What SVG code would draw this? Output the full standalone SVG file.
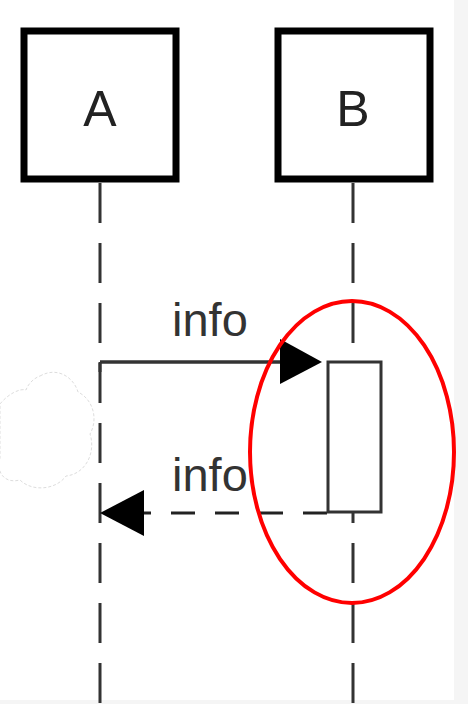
<svg xmlns="http://www.w3.org/2000/svg" width="468" height="704" viewBox="0 0 468 704">
<style>
.box{fill:#fff;stroke:#000;stroke-width:7}
.lbl{font-family:"Liberation Sans",Arial,sans-serif;fill:#222}
.life{stroke:#333;stroke-width:3;stroke-dasharray:40 20;fill:none}
.msg{font-family:"Liberation Sans",Arial,sans-serif;font-size:47px;fill:#333}
</style>
<rect x="0" y="0" width="468" height="704" fill="#fff"/>
<rect x="454" y="0" width="14" height="704" fill="#f5f5f5"/>
<rect x="0" y="700" width="468" height="4" fill="#f5f5f5"/>
<g id="connectors">
<line class="life" x1="100" y1="183" x2="100" y2="704"/>
<line class="life" x1="353" y1="183" x2="353" y2="704"/>
<line x1="100" y1="362" x2="290" y2="362" stroke="#333" stroke-width="3.5"/>
<polygon points="280,339 322,362 280,384" fill="#000"/>
<line x1="327" y1="513" x2="140" y2="513" stroke="#222" stroke-width="3" stroke-dasharray="24 20"/>
<polygon points="100,513 144,490 144,536" fill="#000"/>
<line x1="100" y1="362" x2="100" y2="372" stroke="#333" stroke-width="3"/>
<text class="msg" x="172" y="336">info</text>
<text class="msg" x="172" y="491">info</text>
</g>
<g id="activation">
<rect x="328" y="362" width="53" height="150" fill="#fff" stroke="#333" stroke-width="3"/>
</g>
<g id="nodeA">
<rect class="box" x="24" y="31" width="152" height="148"/>
<text class="lbl" x="100" y="126" font-size="50" text-anchor="middle">A</text>
</g>
<g id="nodeB">
<rect class="box" x="278" y="31" width="152" height="148"/>
<text class="lbl" x="353" y="126" font-size="50" text-anchor="middle">B</text>
</g>
<g id="blob">
<path d="M40,376 C58,366 74,378 78,392 C94,400 98,420 90,434 C96,452 86,474 66,476 C56,490 32,492 20,480 C4,484 -4,472 0,458 L0,404 C8,394 20,388 26,390 C28,384 34,378 40,376 Z" fill="#fff" stroke="#ddd" stroke-width="1" stroke-dasharray="3 2"/>
</g>
<g id="highlight">
<ellipse cx="352" cy="452" rx="102" ry="151" fill="none" stroke="#f00" stroke-width="4"/>
</g>
</svg>
